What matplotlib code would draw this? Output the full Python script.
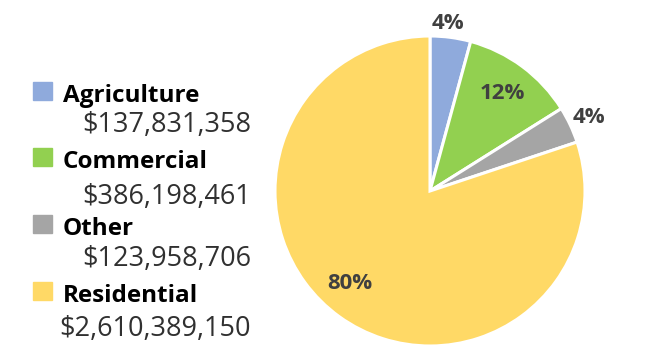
import numpy as np
import matplotlib.pyplot as plt

categories = ['Agriculture', 'Commercial', 'Other', 'Residential']
values = [137831358, 386198461, 123958706, 2610389150]
pct_labels = ['4%', '12%', '4%', '80%']
colors = ['#8FAADC', '#92D050', '#A5A5A5', '#FFD966']

W, H = 653, 345
fig = plt.figure(figsize=(W / 100, H / 100), dpi=100)
plt.rcParams['font.family'] = ['Open Sans', 'DejaVu Sans']

# pie axes, square in pixels
cx, cy, r = 430, 191, 155
ax = fig.add_axes([(cx - r) / W, (H - cy - r) / H, 2 * r / W, 2 * r / H])
wedges, _ = ax.pie(values, colors=colors, startangle=90, counterclock=False,
                   wedgeprops=dict(edgecolor='white', linewidth=2.2))
ax.set_xlim(-1, 1)
ax.set_ylim(-1, 1)
ax.set_aspect('equal')
ax.axis('off')
for w in wedges:
    w.set_clip_on(False)

# label distance per slice (outside for small ones)
dist = [1.09, 0.78, 1.13, 0.79]
shift = [1.5, 0, -0.5, -5]
for w, lab, d, s in zip(wedges, pct_labels, dist, shift):
    a = np.deg2rad((w.theta1 + w.theta2) / 2 + s)
    ax.text(d * np.cos(a), d * np.sin(a), lab, ha='center', va='center',
            fontsize=16, fontweight='bold', color='#404040', clip_on=False)

# legend drawn by hand
sq_top = [82, 148, 215, 282]
name_y = [96, 162, 229, 296]
val_y = [125, 197, 259, 329]
for i, cat in enumerate(categories):
    fig.patches.append(plt.Rectangle((33 / W, 1 - (sq_top[i] + 18) / H), 19 / W, 18 / H,
                                     transform=fig.transFigure, color=colors[i]))
    fig.text(63 / W, 1 - name_y[i] / H, cat, ha='left', va='center',
             fontsize=17.5, fontweight='bold', color='black')
    fig.text(251 / W, 1 - val_y[i] / H, '${:,}'.format(values[i]), ha='right', va='center',
             fontsize=19.5, color='#303030')

fig.savefig('out.png', dpi=100)
